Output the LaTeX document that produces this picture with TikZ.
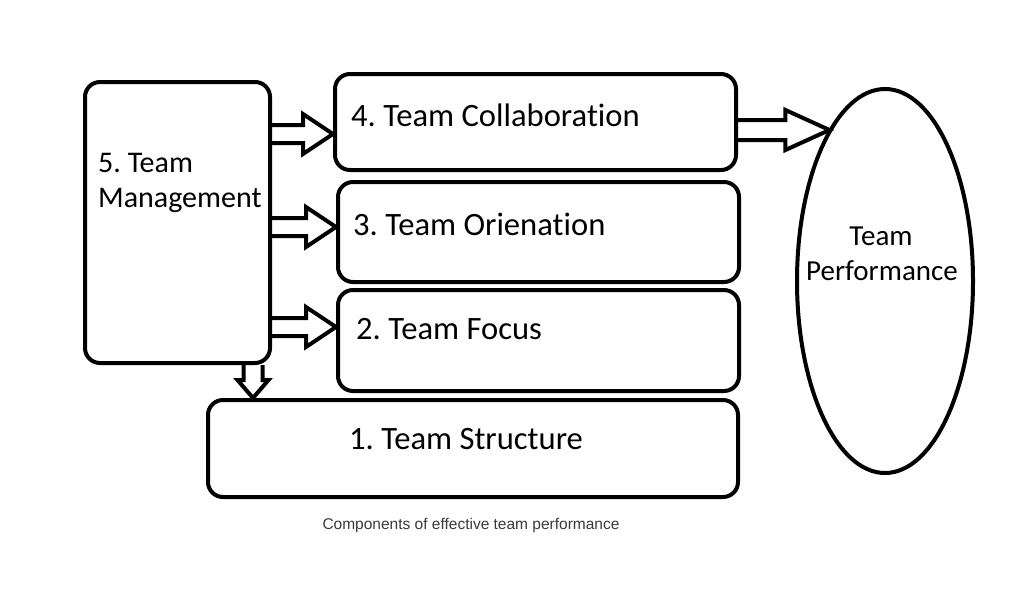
\documentclass[tikz,border=0pt]{standalone}
\usepackage{fontspec}
\setmainfont[Ligatures=NoCommon]{Carlito}
\newfontfamily\capfont{Liberation Sans}
\usetikzlibrary{shapes.geometric,calc}
\definecolor{capgray}{HTML}{3A3A3A}
\frenchspacing
\tikzset{
  box/.style={draw, line width=4pt, rounded corners=15pt, inner sep=0pt},
  lbl/.style={anchor=base west, inner sep=0pt, font=\fontsize{32.6}{34}\selectfont},
  mlbl/.style={anchor=base west, inner sep=0pt, font=\fontsize{30}{32}\selectfont},
  clbl/.style={anchor=base, inner sep=0pt, font=\fontsize{29}{31}\selectfont},
  arr/.style={draw, line width=4pt, line join=miter},
}
% horizontal hollow arrow: start, end, shaft half height, head half height, head length
\newcommand\harrow[5]{%
  \draw[arr] let \p1=(#1), \p2=(#2) in
    (\x1,\y1+#3) -- (\x2-#5,\y1+#3) -- (\x2-#5,\y1+#4) -- (\x2,\y1)
    -- (\x2-#5,\y1-#4) -- (\x2-#5,\y1-#3) -- (\x1,\y1-#3);}
% downward hollow arrow
\newcommand\varrow[5]{%
  \draw[arr] let \p1=(#1), \p2=(#2) in
    (\x1-#3,\y1) -- (\x1-#3,\y2+#5) -- (\x1-#4,\y2+#5) -- (\x1,\y2)
    -- (\x1+#4,\y2+#5) -- (\x1+#3,\y2+#5) -- (\x1+#3,\y1);}
\begin{document}
\begin{tikzpicture}[x=1pt,y=-1pt]
\useasboundingbox[fill=white] (0,0) rectangle (1024,595);
% boxes
\node[box, minimum width=185pt, minimum height=281pt] (m) at (177.5,222.5) {};
\node[box, minimum width=401pt, minimum height=96pt] (c4) at (535.5,122) {};
\node[box, minimum width=401pt, minimum height=100pt] (c3) at (538.5,232) {};
\node[box, minimum width=401pt, minimum height=101pt] (c2) at (538.5,340.5) {};
\node[box, minimum width=530pt, minimum height=97pt] (c1) at (473,448.5) {};
\node[draw, ellipse, line width=4pt, inner sep=0pt, minimum width=176pt, minimum height=384pt] (e) at (885,281) {};
% texts
\node[mlbl] (t5a) at (98,172) {5. Team};
\node[mlbl] (t5b) at (98,207) {Management};
\node[lbl] (t4) at (351,126) {4. Team Collaboration};
\node[lbl] (t3) at (353,235) {3. Team Orienation};
\node[lbl] (t2) at (356,339) {2. Team Focus};
\node[lbl] (t1) at (349,449) {1. Team Structure};
\node[clbl] (tpa) at (881,245) {Team};
\node[clbl] (tpb) at (882,280) {Performance};
\node[anchor=base, inner sep=0pt, text=capgray, font=\capfont\fontsize{15.5}{17}\selectfont] (cap) at (471,529) {Components of effective team performance};
% arrow rows
\coordinate (a4) at (0,134);
\coordinate (a3) at (0,227);
\coordinate (a2) at (0,327);
\coordinate (a0) at (0,130);
\coordinate (d0) at (253,0);
\harrow{m.east |- a4}{c4.west |- a4}{9pt}{20pt}{30pt}
\harrow{m.east |- a3}{c3.west |- a3}{9pt}{20pt}{30pt}
\harrow{m.east |- a2}{c2.west |- a2}{9pt}{20pt}{30pt}
\harrow{c4.east |- a0}{e.110 |- a0}{10pt}{20pt}{44pt}
\varrow{m.south -| d0}{c1.north -| d0}{9.5pt}{15.5pt}{18pt}
\end{tikzpicture}
\end{document}
